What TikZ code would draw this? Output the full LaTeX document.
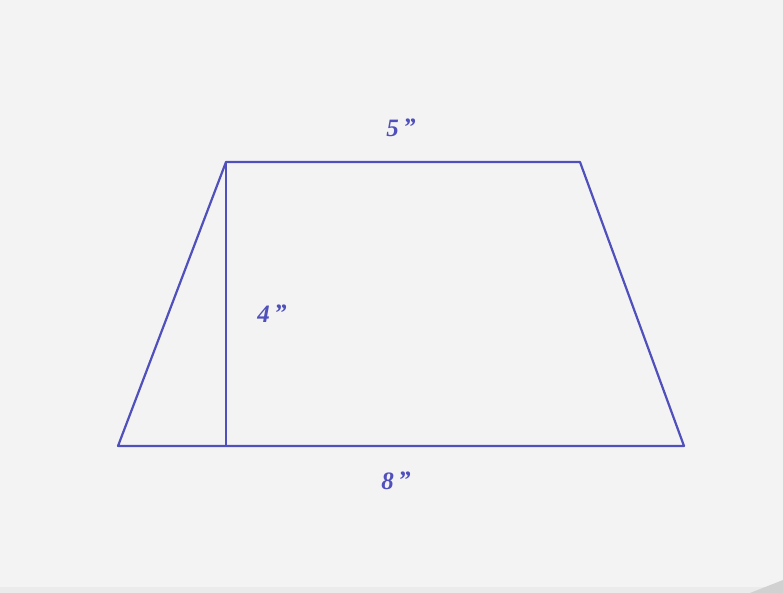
\documentclass[tikz,border=0pt]{standalone}
\usepackage{fontspec}
\setmainfont{Liberation Serif}
\definecolor{trapblue}{RGB}{80,80,188}
\definecolor{paper}{RGB}{243,243,243}
\newcommand{\inch}{\,\raisebox{1pt}{\symbol{34}}}
\begin{document}
\begin{tikzpicture}[x=1pt,y=-1pt,
  edge/.style={draw=trapblue,line width=2.2pt,line join=round},
  lbl/.style={text=trapblue,font=\fontsize{25}{27}\selectfont\bfseries\itshape,inner sep=0pt}]
\useasboundingbox (0,0) rectangle (783,593);
\fill[paper] (0,0) rectangle (783,593);
\fill[white!92!black] (0,587) rectangle (783,593);
\fill[white!82!black] (750,593) -- (783,580) -- (783,593) -- cycle;
\coordinate (BL) at (118,446);
\coordinate (BR) at (684,446);
\coordinate (TL) at (226,162);
\coordinate (TR) at (580,162);
\coordinate (F) at (226,446);
\draw[edge] (BL) -- (TL) -- (TR) -- (BR) -- cycle;
\draw[edge] (TL) -- (F);
\node[lbl] (top) at (401,128) {5\inch};
\node[lbl] (mid) at (272,314) {4\inch};
\node[lbl] (bot) at (396,481) {8\inch};
\end{tikzpicture}
\end{document}
